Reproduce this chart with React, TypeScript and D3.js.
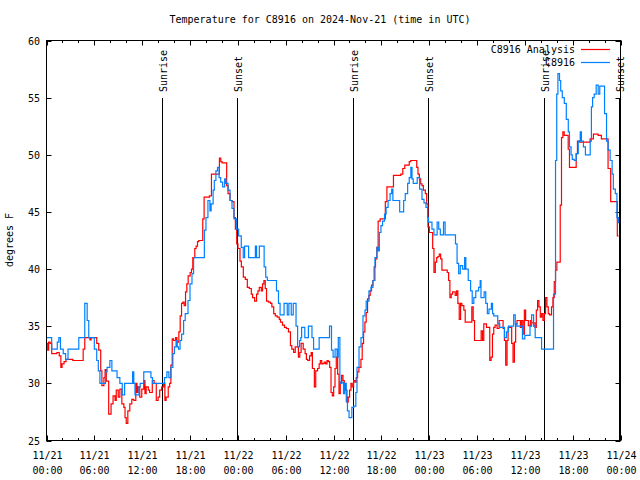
import React from "react";
import * as d3 from "d3";

const title = "Temperature for C8916 on 2024-Nov-21 (time in UTC)";
const yLabel = "degrees F";
const yTicks = [25, 30, 35, 40, 45, 50, 55, 60];
const xTickHours = [0, 6, 12, 18, 24, 30, 36, 42, 48, 54, 60, 66, 72];
const xTickDates = ["11/21", "11/21", "11/21", "11/21", "11/22", "11/22", "11/22", "11/22", "11/23", "11/23", "11/23", "11/23", "11/24"];
const xTickTimes = ["00:00", "06:00", "12:00", "18:00", "00:00", "06:00", "12:00", "18:00", "00:00", "06:00", "12:00", "18:00", "00:00"];
const xMinorHours = [2, 4, 8, 10, 14, 16, 20, 22, 26, 28, 32, 34, 38, 40, 44, 46, 50, 52, 56, 58, 62, 64, 68, 70];
const sunriseHours = [14.47, 38.5, 62.35];
const sunsetHours = [23.85, 47.85, 71.8];
const seriesNames = ["C8916 Analysis", "C8916"];
const seriesColors = ["#ff0000", "#0080ff"];

// [hours since 11/21 00:00 UTC, temperature F]
const analysisSeries: [number, number][] = [
  [0, 33.5], [0.15, 32.9], [0.27, 33.6], [0.45, 33.5], [0.65, 32.6], [1.3, 32.7], [1.6, 32.4], [1.8, 31.4], [1.95, 31.7], [2.2, 31.9], [2.45, 32.1], [3.3, 32], [4.6, 33], [4.8, 34], [5.45, 33.8], [5.6, 34], [6.3, 33.5], [6.55, 32.9], [6.8, 31.1], [6.95, 29.8], [7.2, 30.5], [7.35, 31.2], [7.5, 30.2], [7.8, 27.3], [8.1, 28.2], [8.35, 28.9], [8.6, 28.5], [8.75, 29.4], [9.0, 28.8], [9.2, 29.5], [9.45, 28.2], [9.7, 27.9], [9.85, 27], [10.0, 26.5], [10.2, 27.6], [10.45, 28.2], [10.7, 28.6], [10.95, 28.5], [11.2, 30], [11.35, 29.2], [11.5, 29.7], [11.7, 28.8], [11.95, 29.5], [12.2, 30.25], [12.35, 29.1], [12.5, 29.7], [12.77, 29.4], [12.93, 29.2], [13.27, 30.25], [13.5, 30], [13.77, 28.5], [14.0, 28.8], [14.2, 29.4], [14.45, 29.7], [14.7, 30], [14.85, 28.5], [15.0, 28.8], [15.27, 29.7], [15.45, 30], [15.6, 31.6], [15.77, 33.9], [15.94, 33.75], [16.2, 34], [16.35, 33.6], [16.6, 34.5], [16.77, 35.9], [16.94, 37], [17.1, 37.1], [17.27, 36.8], [17.44, 38], [17.6, 38.7], [17.77, 39.4], [18.02, 39.7], [18.19, 40], [18.35, 41], [18.6, 41.8], [18.77, 42], [18.94, 42.4], [19.1, 42.5], [19.6, 44.4], [19.77, 46.3], [20.44, 46.4], [20.69, 48.3], [21.69, 49.7], [21.86, 49.4], [22.02, 49.3], [22.6, 47.3], [22.77, 46.6], [23.02, 46], [23.27, 45.9], [23.52, 44.5], [23.69, 43.5], [23.86, 42.2], [24.02, 41.8], [24.27, 40.7], [24.44, 40.2], [24.69, 39.3], [24.94, 39.1], [25.19, 38.4], [25.44, 38.3], [25.69, 37.8], [25.85, 37.5], [26.1, 37.2], [26.35, 37.8], [26.52, 38.1], [26.69, 38.4], [26.94, 38.1], [27.1, 38.7], [27.27, 39], [27.44, 38.3], [27.6, 37.2], [27.85, 37.1], [28.1, 37], [28.27, 36.7], [28.5, 36.1], [28.7, 35.9], [28.94, 35.8], [29.2, 35.6], [29.35, 35.35], [29.6, 35.1], [29.85, 34.9], [30.1, 34.8], [30.35, 34.5], [30.6, 33.3], [30.77, 33], [31.0, 32.7], [31.2, 33.2], [31.6, 32.3], [31.77, 32.7], [31.94, 33.5], [32.2, 33], [32.44, 32.6], [32.6, 32.1], [32.77, 32], [33.0, 32.4], [33.2, 32.7], [33.35, 31.3], [33.6, 29.7], [33.77, 31.1], [34.0, 31.3], [34.2, 31.7], [34.35, 32], [34.52, 31.7], [34.7, 31.75], [34.85, 31.85], [35.02, 31.7], [35.19, 32], [35.35, 31.9], [35.52, 31.4], [35.69, 29.2], [35.85, 28.9], [36.02, 29.7], [36.19, 31.3], [36.35, 32.3], [36.52, 30.8], [36.69, 29.1], [36.85, 30.1], [37.02, 30.7], [37.19, 30.25], [37.35, 30], [37.52, 29.4], [37.69, 28.35], [37.85, 28.8], [38.02, 29.4], [38.19, 30], [38.35, 29.7], [38.52, 30.25], [38.69, 30.1], [38.85, 30.5], [39.02, 31], [39.19, 31.4], [39.44, 32.1], [39.6, 33.5], [39.77, 34.5], [39.94, 35.35], [40.1, 36.2], [40.27, 37.4], [40.44, 37.7], [40.6, 38.1], [40.77, 38.6], [40.94, 39], [41.1, 40.2], [41.27, 40.9], [41.44, 41.9], [41.6, 44.2], [41.85, 44.4], [42.5, 45.9], [42.7, 47.2], [43.52, 48.2], [44.44, 48.3], [44.69, 48.8], [44.94, 49.1], [45.5, 49.4], [45.69, 49.5], [46.44, 48.9], [46.6, 48.3], [46.77, 47.9], [46.94, 47.45], [47.1, 47.3], [47.27, 46.9], [47.52, 46.6], [47.69, 45.7], [47.85, 43.7], [48.02, 43.2], [48.44, 41.8], [48.6, 39.7], [48.77, 40.6], [48.94, 41], [49.1, 41.1], [49.27, 41.3], [49.44, 40.9], [49.6, 39.9], [50.27, 39.7], [50.44, 39], [50.6, 37.5], [50.77, 37.8], [50.94, 38], [51.27, 37.7], [51.44, 38.1], [51.6, 37], [51.77, 35.6], [51.94, 37], [52.1, 36.8], [52.35, 36.4], [52.52, 35.35], [53.35, 36.7], [53.52, 35.5], [53.69, 33.75], [54.52, 34.6], [54.69, 33.75], [54.85, 35.2], [55.19, 34.9], [55.6, 32], [55.77, 32.3], [55.94, 34.3], [56.1, 34.9], [56.27, 35.1], [56.52, 34.8], [56.77, 35.5], [57.27, 34.8], [57.44, 33.75], [57.6, 31.6], [57.77, 33.75], [57.9, 34.9], [58.35, 33.5], [58.52, 31.85], [58.69, 33.6], [58.85, 35.2], [59.02, 35.5], [59.44, 34.9], [59.6, 35.5], [59.77, 34.3], [59.94, 36.4], [60.1, 35.5], [60.44, 35.05], [60.69, 35.5], [60.85, 35.3], [61.27, 34.9], [61.44, 36.4], [61.6, 37.25], [61.77, 36.7], [61.94, 35.8], [62.1, 36.1], [62.27, 35.5], [62.44, 36.1], [62.6, 37.5], [62.77, 36.7], [62.94, 36.1], [63.1, 36], [63.35, 36.7], [63.52, 37.5], [63.69, 38.9], [63.85, 39.9], [64.02, 40.6], [64.44, 45.6], [64.6, 51.5], [64.77, 52], [64.94, 51.7], [65.44, 50.5], [65.6, 48.9], [66.44, 50.1], [66.6, 51.2], [66.85, 51.1], [68.19, 51.4], [68.6, 51.8], [69.19, 51.7], [69.6, 51.4], [70.44, 48.8], [70.77, 45.9], [71.6, 42.9], [71.75, 42.9],
];

const observedSeries: [number, number][] = [
  [0, 34], [0.65, 33], [1.35, 33.6], [1.55, 34], [1.75, 33], [2.1, 32.6], [2.4, 32.1], [2.7, 33], [4.05, 34], [4.8, 37], [5.1, 35.5], [5.3, 34], [6.0, 33], [6.3, 32], [6.5, 31.1], [6.7, 30], [7.4, 31], [7.6, 31.4], [7.95, 32], [8.2, 31.1], [8.85, 30.5], [9.2, 30], [9.5, 29], [9.8, 30], [10.8, 31], [10.95, 30], [11.1, 29], [11.6, 29.7], [11.75, 30], [12.2, 31], [13.1, 30.5], [13.3, 30], [14.8, 30.5], [15.1, 31], [15.35, 30.5], [15.6, 31.4], [15.85, 32.6], [16.05, 33.2], [16.25, 33.75], [16.4, 33.2], [16.55, 33], [16.75, 33.75], [16.95, 34.3], [17.2, 35.5], [17.4, 36.1], [17.75, 37.25], [18.0, 38.7], [18.25, 39.6], [18.45, 41], [19.8, 43.4], [20.0, 44.5], [20.25, 46], [20.5, 45.1], [20.65, 45.7], [20.9, 46.9], [21.05, 47.75], [21.25, 48.6], [21.45, 48.9], [21.65, 48], [21.85, 47.6], [22.1, 47.2], [22.35, 47.9], [22.5, 47.5], [22.77, 46.9], [23.02, 46], [23.27, 45.3], [23.52, 44.4], [23.85, 43.5], [24.1, 42.9], [24.43, 41.9], [24.68, 41], [24.85, 42], [25.35, 41], [26.2, 42], [26.35, 41], [26.7, 42], [27.3, 40.2], [27.5, 39.3], [27.7, 39], [28.85, 38.1], [29.1, 37], [29.3, 36], [29.8, 37], [30.2, 36], [30.4, 37], [30.7, 36], [30.95, 37], [31.3, 35], [31.5, 33.2], [31.75, 33.75], [31.9, 34], [32.0, 34.9], [32.4, 34], [32.85, 35], [33.3, 34], [33.5, 33], [34.2, 34], [35.5, 35], [35.75, 32.9], [35.95, 32.3], [36.2, 33], [36.45, 32.3], [36.6, 34], [36.8, 30], [37.05, 30.1], [37.25, 29.1], [37.4, 30], [37.6, 28.4], [37.75, 27.6], [37.95, 27], [38.3, 27.9], [38.55, 28], [38.8, 29.2], [38.95, 31.4], [39.2, 33.2], [39.45, 34], [39.7, 35.9], [39.95, 36.4], [40.1, 37.2], [40.45, 38.1], [40.7, 38.4], [40.95, 39], [41.2, 41], [41.45, 41.9], [41.6, 41.6], [41.75, 43.2], [41.95, 43.8], [42.15, 44.2], [42.4, 44.8], [42.6, 45.4], [42.85, 46], [43.1, 46.6], [43.3, 47], [43.45, 46], [44.3, 45], [44.8, 46], [45.0, 46.6], [45.3, 47.5], [45.5, 48], [45.7, 48.9], [45.85, 47.9], [46.0, 47.5], [46.5, 48], [46.8, 47], [47.1, 46.1], [47.35, 45.8], [47.6, 45.4], [47.8, 44.5], [47.9, 44.1], [48.35, 43.5], [48.6, 43], [49.0, 44.1], [49.2, 43.5], [49.4, 43], [49.8, 44.1], [50.0, 43], [51.3, 42.2], [51.5, 40.5], [51.7, 39.6], [51.9, 40.3], [52.2, 40], [52.45, 41], [52.6, 40], [52.9, 39], [53.2, 38.1], [53.4, 37], [53.6, 37.5], [53.85, 38.1], [54.2, 38.4], [54.4, 39], [54.5, 37.5], [54.9, 38], [55.1, 37], [55.3, 36.1], [55.5, 36.5], [55.8, 37], [55.95, 36.1], [56.1, 35.9], [56.6, 35.2], [56.85, 34.9], [57.45, 34], [57.7, 34.5], [57.95, 35], [58.6, 36], [58.8, 35.2], [59.0, 35], [59.7, 33.9], [60.0, 34.2], [60.65, 35], [60.85, 36], [61.1, 35], [61.3, 34], [62.1, 33], [63.6, 37.8], [63.85, 49.5], [64.0, 55.3], [64.15, 57.1], [64.35, 56.5], [64.5, 55.6], [64.7, 55], [64.95, 54.5], [65.2, 53.1], [65.45, 52], [65.6, 50.7], [65.8, 50], [65.95, 49.6], [66.2, 49.5], [66.45, 50.1], [66.7, 51.2], [66.95, 52], [67.1, 51.2], [67.35, 50.7], [67.6, 50], [68.2, 51.2], [68.35, 54.2], [68.5, 55], [68.7, 55.3], [68.95, 56.1], [69.2, 55.3], [69.4, 56], [70.0, 53.6], [70.25, 51.2], [70.45, 50.4], [70.7, 49.5], [70.95, 48.3], [71.1, 47], [71.35, 46.6], [71.55, 44.5], [71.75, 44],
];

const FONT = "'DejaVu Sans Mono', monospace";

export default function App() {
  const W = 640, H = 480;
  const L = 46.5, R = 620.5, T = 40.5, B = 440.5;
  const x = d3.scaleLinear().domain([0, 72]).range([L, R]);
  const y = d3.scaleLinear().domain([25, 60]).range([B, T]);
  const line = d3
    .line<[number, number]>()
    .x((d) => x(d[0]))
    .y((d) => y(d[1]))
    .curve(d3.curveStepAfter);
  const series = [analysisSeries, observedSeries];

  return (
    <svg
      width={W}
      height={H}
      style={{ position: "absolute", left: 0, top: 0, background: "#fff" }}
      fontFamily={FONT}
      fontSize={10}
    >
      <rect x={0} y={0} width={W} height={H} fill="#fff" />
      <defs>
        <clipPath id="plot">
          <rect x={L} y={T} width={R - L} height={B - T} />
        </clipPath>
      </defs>
      <text x={320} y={23} textAnchor="middle" fill="#000">{title}</text>
      <text transform={`translate(13,240) rotate(-90)`} textAnchor="middle" fill="#000">{yLabel}</text>

      {/* y ticks */}
      {yTicks.map((v) => (
        <g key={"y" + v}>
          <line x1={L} x2={L + 5} y1={Math.round(y(v)) + 0.5} y2={Math.round(y(v)) + 0.5} stroke="#000" />
          <line x1={R - 5} x2={R} y1={Math.round(y(v)) + 0.5} y2={Math.round(y(v)) + 0.5} stroke="#000" />
          <text x={40} y={y(v) + 4} textAnchor="end" fill="#000">{v}</text>
        </g>
      ))}
      {/* x major ticks */}
      {xTickHours.map((h, i) => {
        const px = Math.round(x(h)) + 0.5;
        return (
          <g key={"x" + h}>
            <line x1={px} x2={px} y1={B} y2={B - 5} stroke="#000" />
            <line x1={px} x2={px} y1={T} y2={T + 5} stroke="#000" />
            <text x={px} y={459} textAnchor="middle" fill="#000">{xTickDates[i]}</text>
            <text x={px} y={474} textAnchor="middle" fill="#000">{xTickTimes[i]}</text>
          </g>
        );
      })}
      {xMinorHours.map((h) => {
        const px = Math.round(x(h)) + 0.5;
        return (
          <g key={"m" + h}>
            <line x1={px} x2={px} y1={B} y2={B - 2.5} stroke="#000" />
            <line x1={px} x2={px} y1={T} y2={T + 2.5} stroke="#000" />
          </g>
        );
      })}

      {/* sunrise / sunset */}
      {sunriseHours.map((h) => {
        const px = Math.round(x(h)) + 0.5;
        return (
          <g key={"sr" + h}>
            <line x1={px} x2={px} y1={98} y2={B} stroke="#000" />
            <text transform={`translate(${px + 4.5},92) rotate(-90)`} fill="#000">Sunrise</text>
          </g>
        );
      })}
      {sunsetHours.map((h) => {
        const px = Math.round(x(h)) + 0.5;
        return (
          <g key={"ss" + h}>
            <line x1={px} x2={px} y1={98} y2={B} stroke="#000" />
            <text transform={`translate(${px + 4.5},92) rotate(-90)`} fill="#000">Sunset</text>
          </g>
        );
      })}

      {/* series */}
      <g clipPath="url(#plot)">
        {series.map((s, i) => (
          <path key={"s" + i} d={line(s) || ""} fill="none" stroke={seriesColors[i]} strokeWidth={1.2} />
        ))}
      </g>

      {/* legend */}
      {seriesNames.map((n, i) => (
        <g key={"lg" + i}>
          <text x={575} y={53 + i * 13} textAnchor="end" fill="#000">{n}</text>
          <line x1={581} x2={610} y1={49.5 + i * 13} y2={49.5 + i * 13} stroke={seriesColors[i]} strokeWidth={1.2} />
        </g>
      ))}

      <rect x={L} y={T} width={R - L} height={B - T} fill="none" stroke="#000" />
    </svg>
  );
}
